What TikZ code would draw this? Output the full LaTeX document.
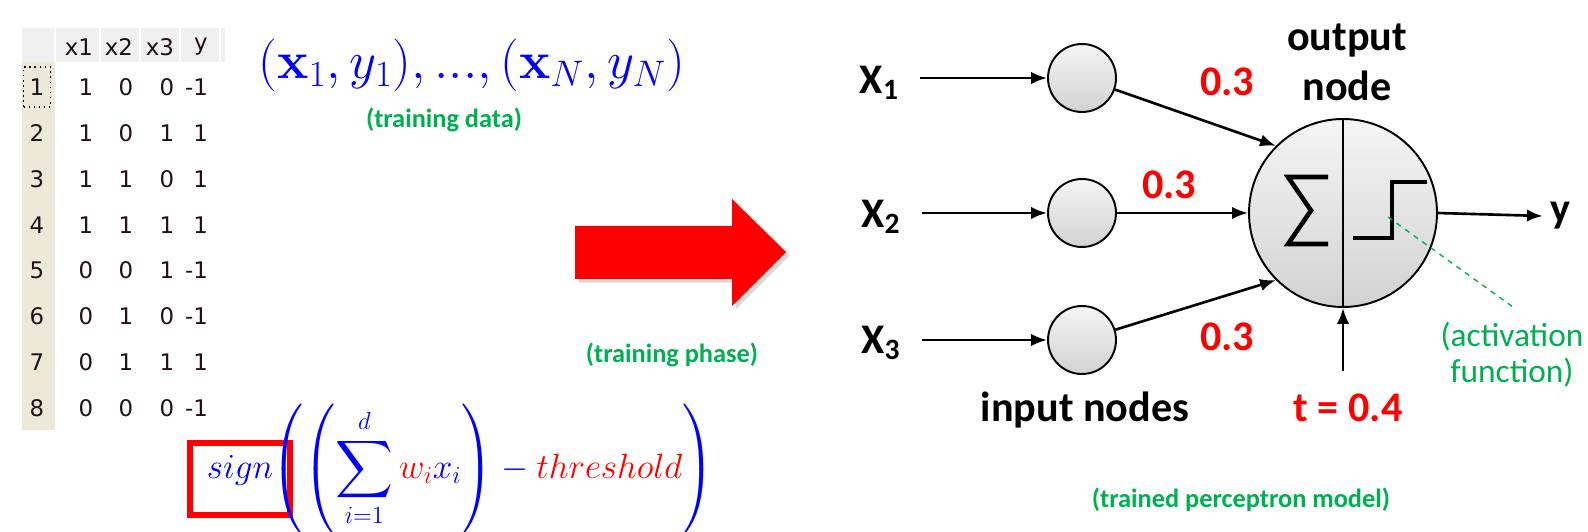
\documentclass[tikz,border=0pt]{standalone}
\usepackage{fix-cm}
\usepackage{exscale}
\usepackage{graphicx}
\usepackage[no-math]{fontspec}
\setmainfont{Carlito}
\newfontfamily\tablefont{DejaVu Sans}
\usetikzlibrary{arrows.meta,shadows}

\definecolor{notegreen}{RGB}{0,176,80}
\definecolor{cellbeige}{RGB}{236,233,216}
\definecolor{headgray}{RGB}{240,240,240}
\definecolor{celltext}{RGB}{35,15,25}

\newcommand{\bigsum}{\mathop{\vcenter{\hbox{\scalebox{1.1}{$\displaystyle\sum$}}}}\limits}

\tikzset{
  big/.style={font=\fontsize{24}{28.4}\selectfont\bfseries},
  weight/.style={big, text=red},
  note/.style={font=\fontsize{15}{18}\selectfont\bfseries, text=notegreen},
  neuron/.style={circle, draw, line width=1.1pt, top color=gray!8, bottom color=gray!35, minimum size=1.36cm},
  cell/.style={font=\tablefont\fontsize{13}{15}\selectfont, text=celltext},
  mathtext/.style={text=blue, font=\fontsize{20}{24}\selectfont},
}

\begin{document}
\begin{tikzpicture}[>={Latex[length=9pt,width=7pt]}, line width=1.5pt]
\useasboundingbox (0,0) rectangle (31.76,10.62);

% data table
\fill[headgray] (0.44,10.06) rectangle (4.5,9.38);
\fill[cellbeige] (0.44,9.38) rectangle (1.1,2.02);
\foreach \x in {1.1,2.0,2.8,3.6,4.4}
  \draw[white, line width=1pt] (\x,10.06) -- (\x,9.38);
\foreach \h/\x [count=\i] in {x1/1.58,x2/2.38,x3/3.2,y/4.02}
  \node[cell] (head\i) at (\x,9.68) {\h};
\foreach \a/\b/\c/\d [count=\r] in {1/0/0/-1,1/0/1/1,1/1/0/1,1/1/1/1,0/0/1/-1,0/1/0/-1,0/1/1/1,0/0/0/-1} {
  \node[cell] (num\r) at (0.74,{9.798-0.918*\r}) {\r};
  \node[cell] (a\r) at (1.72,{9.798-0.918*\r}) {\a};
  \node[cell] (b\r) at (2.52,{9.798-0.918*\r}) {\b};
  \node[cell] (c\r) at (3.34,{9.798-0.918*\r}) {\c};
  \node[cell, anchor=east] (d\r) at (4.3,{9.798-0.918*\r}) {\d};
}
\draw[dotted, line width=0.9pt] ([shift={(-0.27,-0.4)}]num1.center) rectangle ([shift={(0.27,0.4)}]num1.center);

% training data and rule
\node[text=blue, font=\fontsize{30}{36}\selectfont] (pairs) at (9.44,9.32) {$(\mathbf{x}_1 , y_1), ..., (\mathbf{x}_N , y_N)$};
\node[note] (datalabel) at (8.88,8.22) {(training data)};

\node[draw=red, line width=3.4pt, minimum width=2cm, minimum height=1.44cm] (signbox) at (4.8,1.04) {};
\node[mathtext] (sgn) at (4.8,1.22) {$sign$};
\node[mathtext, anchor=base west, inner sep=0pt] (rule) at ([xshift=-0.2cm]sgn.base east)
  {$\displaystyle\left(\left(\bigsum_{i=1}^{d} \textcolor{red}{w_i} x_i\right) - \textcolor{red}{threshold}\right)$};

% training phase
\fill[red, drop shadow={opacity=0.3, shadow xshift=2pt, shadow yshift=-2pt}]
  (11.5,6.1) -- (14.64,6.1) -- (14.64,6.64) -- (15.72,5.58) -- (14.64,4.5) -- (14.64,5.04) -- (11.5,5.04) -- cycle;
\node[note] (phaselabel) at (13.44,3.52) {(training phase)};

% perceptron
\node[neuron] (in1) at (21.64,9.06) {};
\node[neuron] (in2) at (21.64,6.36) {};
\node[neuron] (in3) at (21.64,3.82) {};
\node[big] (x1) at (17.59,8.96) {X\textsubscript{1}};
\node[big] (x2) at (17.62,6.28) {X\textsubscript{2}};
\node[big] (x3) at (17.62,3.76) {X\textsubscript{3}};
\node[big] (inlabel) at (21.7,2.42) {input nodes};

\node[neuron, minimum size=3.76cm] (out) at (26.86,6.36) {};
\draw[line width=1.1pt] (out.north) -- (out.south);
\draw[line width=2.6pt] ([shift={(-0.3,0.72)}]out.center) -- ([shift={(-1.1,0.72)}]out.center)
  -- ([shift={(-0.64,0.05)}]out.center) -- ([shift={(-1.1,-0.62)}]out.center) -- ([shift={(-0.3,-0.62)}]out.center);
\draw[line width=2.6pt] ([shift={(0.2,-0.5)}]out.center) -- ([shift={(0.98,-0.5)}]out.center)
  -- ([shift={(0.98,0.62)}]out.center) -- ([shift={(1.68,0.62)}]out.center);
\node[big, align=center] (outlabel) at (26.94,9.38) {output\\node};

\node[weight] (w1) at (24.54,8.98) {0.3};
\node[weight] (w2) at (23.38,6.92) {0.3};
\node[weight] (w3) at (24.54,3.88) {0.3};
\node[weight] (tlab) at (26.96,2.46) {t = 0.4};
\node[big] (ylab) at (31.2,6.3) {y};

\draw[->, shorten <=8pt] (x1.east |- in1) -- (in1);
\draw[->, shorten <=8pt] (x2.east |- in2) -- (in2);
\draw[->, shorten <=8pt] (x3.east |- in3) -- (in3);
\draw[->] (in1) -- (out.135);
\draw[->] (in2) -- (out);
\draw[->] (in3) -- (out.225);
\draw[->] (out.east) -- (ylab.west);
\draw[->, shorten <=9pt] (out |- tlab.north) -- (out.south);

% activation note
\coordinate (stepmid) at ([shift={(0.9,-0.08)}]out.center);
\coordinate (actend) at (30.26,4.48);
\draw[notegreen, dashed, line width=0.8pt] (stepmid) -- (actend);
\node[font=\fontsize{19}{20.5}\selectfont, text=notegreen, align=center] (actlabel) at (30.24,3.52) {(activation\\function)};

\node[note] (modellabel) at (24.82,0.62) {(trained perceptron model)};
\end{tikzpicture}
\end{document}
